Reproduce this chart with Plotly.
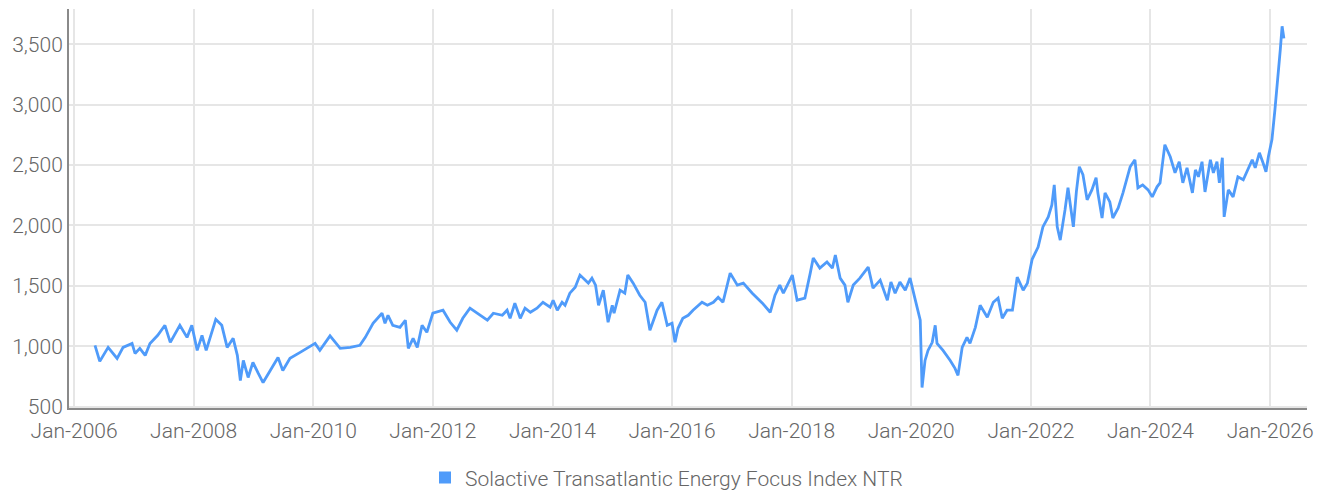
import datetime as dt
import plotly.graph_objects as go

# Time positions (decimal years) and index values
t_year = [
    2006.35, 2006.43, 2006.57, 2006.72, 2006.82, 2006.97, 2007.02, 2007.10, 2007.19, 2007.27,
    2007.40, 2007.52, 2007.61, 2007.77, 2007.89, 2007.97, 2008.06, 2008.14, 2008.21, 2008.37,
    2008.47, 2008.56, 2008.66, 2008.73, 2008.78, 2008.83, 2008.91, 2008.99, 2009.08, 2009.16,
    2009.28, 2009.41, 2009.49, 2009.61, 2009.78, 2009.90, 2010.03, 2010.11, 2010.28, 2010.45,
    2010.62, 2010.78, 2010.87, 2011.00, 2011.15, 2011.20, 2011.25, 2011.33, 2011.45, 2011.54,
    2011.59, 2011.67, 2011.74, 2011.82, 2011.90, 2012.00, 2012.17, 2012.29, 2012.40, 2012.50,
    2012.62, 2012.74, 2012.91, 2013.01, 2013.16, 2013.24, 2013.29, 2013.37, 2013.46, 2013.54,
    2013.63, 2013.74, 2013.84, 2013.96, 2014.01, 2014.08, 2014.16, 2014.21, 2014.29, 2014.38,
    2014.46, 2014.55, 2014.60, 2014.66, 2014.72, 2014.77, 2014.85, 2014.93, 2015.00, 2015.03,
    2015.13, 2015.21, 2015.26, 2015.35, 2015.46, 2015.55, 2015.63, 2015.75, 2015.83, 2015.92,
    2016.00, 2016.05, 2016.10, 2016.18, 2016.27, 2016.35, 2016.50, 2016.59, 2016.69, 2016.77,
    2016.85, 2016.97, 2017.09, 2017.19, 2017.34, 2017.51, 2017.64, 2017.72, 2017.80, 2017.86,
    2018.01, 2018.09, 2018.22, 2018.31, 2018.36, 2018.47, 2018.59, 2018.68, 2018.73, 2018.81,
    2018.89, 2018.94, 2019.03, 2019.14, 2019.28, 2019.36, 2019.48, 2019.60, 2019.66, 2019.73,
    2019.81, 2019.90, 2019.98, 2020.06, 2020.15, 2020.18, 2020.23, 2020.28, 2020.35, 2020.40,
    2020.43, 2020.53, 2020.65, 2020.73, 2020.78, 2020.85, 2020.93, 2020.98, 2021.07, 2021.15,
    2021.27, 2021.37, 2021.45, 2021.52, 2021.60, 2021.69, 2021.77, 2021.87, 2021.94, 2022.02,
    2022.12, 2022.20, 2022.29, 2022.35, 2022.39, 2022.44, 2022.49, 2022.57, 2022.62, 2022.71,
    2022.76, 2022.81, 2022.87, 2022.94, 2023.02, 2023.09, 2023.12, 2023.19, 2023.24, 2023.32,
    2023.37, 2023.46, 2023.54, 2023.66, 2023.74, 2023.79, 2023.87, 2023.96, 2024.03, 2024.11,
    2024.16, 2024.24, 2024.33, 2024.41, 2024.48, 2024.54, 2024.61, 2024.70, 2024.75, 2024.80,
    2024.86, 2024.91, 2025.00, 2025.05, 2025.11, 2025.15, 2025.20, 2025.23, 2025.30, 2025.38,
    2025.46, 2025.55, 2025.63, 2025.70, 2025.75, 2025.82, 2025.88, 2025.93, 2025.97, 2026.03,
    2026.08, 2026.13, 2026.17, 2026.20, 2026.23,
]
index_values = [
    1007, 874, 990, 899, 990, 1023, 940, 982, 924, 1023,
    1090, 1173, 1032, 1173, 1073, 1173, 965, 1090, 965, 1223,
    1173, 990, 1065, 924, 716, 882, 741, 866, 774, 699,
    799, 907, 799, 899, 949, 982, 1023, 965, 1085, 982,
    990, 1007, 1073, 1190, 1273, 1190, 1256, 1173, 1156, 1215,
    982, 1065, 990, 1173, 1115, 1273, 1298, 1198, 1132, 1231,
    1315, 1273, 1215, 1273, 1256, 1298, 1231, 1356, 1231, 1315,
    1281, 1315, 1364, 1323, 1381, 1298, 1364, 1339, 1439, 1489,
    1589, 1547, 1522, 1564, 1506, 1339, 1464, 1198, 1339, 1273,
    1464, 1439, 1589, 1522, 1422, 1364, 1132, 1298, 1364, 1173,
    1190, 1032, 1148, 1231, 1256, 1298, 1364, 1339, 1364, 1406,
    1364, 1605, 1506, 1522, 1439, 1356, 1281, 1422, 1506, 1439,
    1589, 1381, 1398, 1605, 1730, 1647, 1697, 1647, 1755, 1564,
    1506, 1364, 1506, 1564, 1655, 1481, 1547, 1381, 1531, 1439,
    1531, 1464, 1564, 1398, 1215, 658, 882, 965, 1032, 1173,
    1023, 965, 882, 816, 758, 990, 1073, 1023, 1156, 1339,
    1240, 1364, 1398, 1231, 1298, 1298, 1572, 1464, 1522, 1720,
    1821, 1988, 2071, 2170, 2336, 1988, 1879, 2129, 2312, 1988,
    2278, 2486, 2420, 2212, 2295, 2395, 2270, 2062, 2270, 2195,
    2062, 2145, 2270, 2486, 2544, 2312, 2336, 2295, 2237, 2320,
    2353, 2669, 2569, 2436, 2528, 2353, 2478, 2270, 2461, 2403,
    2528, 2278, 2544, 2436, 2528, 2353, 2561, 2071, 2295, 2237,
    2403, 2378, 2461, 2544, 2478, 2602, 2519, 2445, 2569, 2711,
    2960, 3209, 3458, 3650, 3550,
]

series_name = "Solactive Transatlantic Energy Focus Index NTR"
x_tick_dates = ["2006-01-01", "2008-01-01", "2010-01-01", "2012-01-01", "2014-01-01",
                "2016-01-01", "2018-01-01", "2020-01-01", "2022-01-01", "2024-01-01",
                "2026-01-01"]
y_ticks = [500, 1000, 1500, 2000, 2500, 3000, 3500]


def to_date(y):
    year = int(y)
    start = dt.datetime(year, 1, 1)
    days = (dt.datetime(year + 1, 1, 1) - start).days
    return start + dt.timedelta(days=(y - year) * days)


dates = [to_date(v) for v in t_year]

LINE_COLOR = "#4F9BFA"
FONT = "Roboto, Liberation Sans, sans-serif"
TEXT_COLOR = "#666666"

fig = go.Figure()
fig.add_trace(go.Scatter(
    x=dates, y=index_values, mode="lines",
    line=dict(color=LINE_COLOR, width=2.8),
    showlegend=False, name=series_name,
))
fig.add_trace(go.Scatter(
    x=[None], y=[None], mode="markers",
    marker=dict(symbol="square", size=12, color=LINE_COLOR),
    name=series_name, showlegend=True,
))

# page body has an 8px margin, so the figure is sized to fit the window
fig.update_layout(
    width=1317, height=485,
    margin=dict(l=61, r=18, t=1, b=85),
    paper_bgcolor="white", plot_bgcolor="white",
    font=dict(family=FONT, size=21, color=TEXT_COLOR, weight=300),
    legend=dict(
        orientation="h", xref="container", yref="container",
        x=0.50, y=0.031, xanchor="center", yanchor="middle",
        font=dict(family=FONT, size=21, color=TEXT_COLOR, weight=300),
        itemwidth=30, bgcolor="rgba(0,0,0,0)",
    ),
    xaxis=dict(
        type="date",
        range=["2005-12-01", "2026-08-14"],
        tickvals=x_tick_dates, tickformat="%b-%Y",
        showgrid=True, gridcolor="#e6e6e6", gridwidth=2,
        showline=True, linecolor="#8a8a8a", linewidth=2,
        ticks="", zeroline=False, automargin=False,
        ticklabelstandoff=3,
    ),
    yaxis=dict(
        range=[488, 3793],
        tickvals=y_ticks, tickformat=",",
        showgrid=True, gridcolor="#e6e6e6", gridwidth=2,
        showline=True, linecolor="#8a8a8a", linewidth=2,
        ticks="", zeroline=False, automargin=False,
    ),
)

fig.write_html("out.html")
